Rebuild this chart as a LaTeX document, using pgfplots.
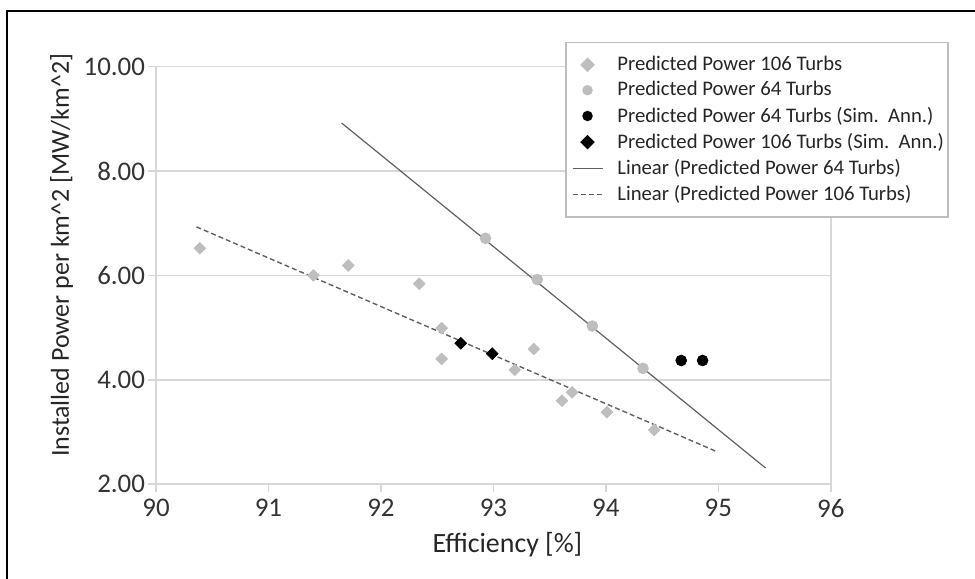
\documentclass[border=0pt]{standalone}
\usepackage{pgfplots}
\pgfplotsset{compat=1.18}
\usepackage{fontspec}
\setmainfont{Carlito}
\definecolor{lgrey}{RGB}{190,190,190}
\definecolor{gridc}{RGB}{215,215,215}
\definecolor{trend}{RGB}{95,95,95}
\pgfplotsset{limg/.style={legend image code/.code={\path (-2bp,0bp); \draw[mark repeat=2,mark phase=2,##1] plot coordinates {(0bp,0bp) (7.5bp,0bp) (15bp,0bp)}; \path (21bp,0bp);}}}
\begin{document}
\begin{tikzpicture}
\useasboundingbox (-78bp,-47.3bp) rectangle (409.5bp,242.1bp);
\draw[black, line width=1.2bp] (-74.5bp,-50bp) -- (-74.5bp,236.6bp) -- (412bp,236.6bp);
\begin{axis}[
  at={(0,0)}, anchor=origin,
  scale only axis, width=337.4bp, height=208.8bp,
  xmin=90, xmax=96, ymin=2, ymax=10,
  xtick={90,91,...,96}, ytick={2,4,6,8,10},
  xtick pos=bottom, ytick pos=left,
  tick align=outside, major tick length=4bp,
  tick style={gridc, line width=0.8bp},
  axis line style={gridc, line width=0.8bp},
  ymajorgrids, grid style={gridc, line width=0.8bp},
  /pgf/number format/assume math mode=true,
  yticklabel style={/pgf/number format/.cd, fixed, fixed zerofill, precision=2, /tikz/.cd, xshift=2bp},
  ticklabel style={font=\fontsize{13.5}{15}\selectfont, text=black!80},
  xlabel={Efficiency [\%]},
  ylabel={Installed Power per km\textasciicircum 2 [MW/km\textasciicircum 2]},
  label style={text=black!85},
  xlabel style={font=\fontsize{14}{16}\selectfont, yshift=-0.5bp, xshift=7bp},
  ylabel style={font=\fontsize{13}{16}\selectfont, at={(ticklabel cs:0.548)}, yshift=-1.5bp},
  legend cell align=left,
  legend style={at={(0.606,1.0595)}, anchor=north west,
    draw=lgrey, line width=0.8bp, fill=white,
    font=\fontsize{10.4}{12}\selectfont, text=black!85,
    inner xsep=1bp, inner ysep=4.8bp,
    nodes={inner xsep=1bp, inner ysep=2.0bp},
    row sep=0bp, column sep=0bp},
  legend image post style={mark size=2.2pt},
]
% Predicted Power 106 Turbs
\addplot[only marks, mark=square*, mark size=2.05pt, color=lgrey, mark options={fill=lgrey, draw=lgrey, rotate=45}, limg]
coordinates {
(90.39,6.52) (91.40,6.00) (91.71,6.19) (92.34,5.84) (92.54,4.99) (92.54,4.40)
(93.19,4.19) (93.36,4.59) (93.61,3.60) (93.70,3.76) (94.01,3.38) (94.43,3.04)
};
\addlegendentry{Predicted Power 106 Turbs}
% Predicted Power 64 Turbs
\addplot[only marks, mark=*, mark size=2.7pt, color=lgrey, mark options={fill=lgrey, draw=lgrey}, limg]
coordinates {
(92.93,6.71) (93.39,5.92) (93.88,5.03) (94.33,4.22)
};
\addlegendentry{Predicted Power 64 Turbs}
% 64 Turbs Sim Ann
\addplot[only marks, mark=*, mark size=2.7pt, color=black, mark options={fill=black}, limg]
coordinates {
(94.67,4.37) (94.86,4.37)
};
\addlegendentry{Predicted Power 64 Turbs (Sim.\ \ Ann.)}
% 106 Turbs Sim Ann
\addplot[only marks, mark=square*, mark size=2.05pt, color=black, mark options={fill=black, rotate=45}, limg]
coordinates {
(92.71,4.70) (92.99,4.50)
};
\addlegendentry{Predicted Power 106 Turbs (Sim.\ \ Ann.)}
% Linear 64
\addplot[trend, line width=0.6bp, no marks, limg] coordinates {(91.65,8.92) (95.42,2.31)};
\addlegendentry{Linear (Predicted Power 64 Turbs)}
% Linear 106
\addplot[trend, line width=0.7bp, no marks, dash pattern=on 2.5bp off 1.5bp, limg] coordinates {(90.36,6.93) (94.98,2.63)};
\addlegendentry{Linear (Predicted Power 106 Turbs)}
\end{axis}
\end{tikzpicture}
\end{document}
